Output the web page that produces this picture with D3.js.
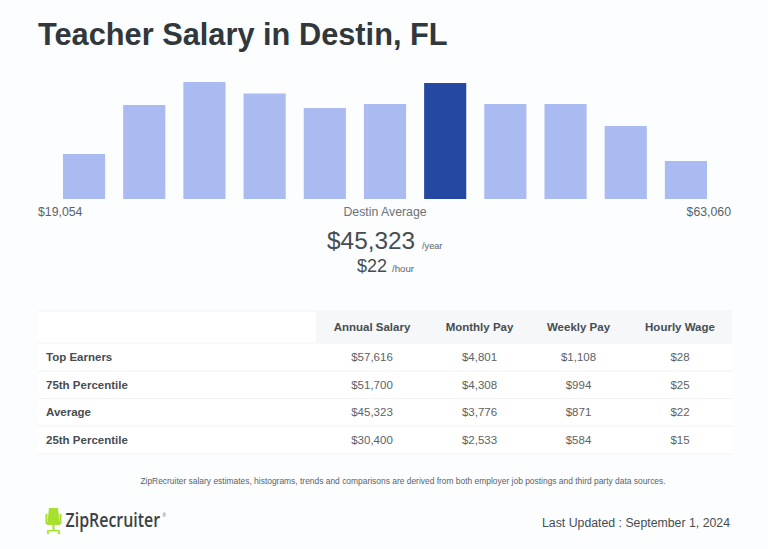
<!DOCTYPE html>
<html>
<head>
<meta charset="utf-8">
<script src="https://cdn.jsdelivr.net/npm/d3@7"></script>
<style>
  html, body { margin: 0; padding: 0; background: #fbfdff; }
  svg { display: block; font-family: "Liberation Sans", Arial, sans-serif; }
</style>
</head>
<body>
<svg width="768" height="549"></svg>
<script>
// bar heights, histogram has no y axis
const BINS = [1, 2, 3, 4, 5, 6, 7, 8, 9, 10, 11]
const BIN_VALUES = [45, 94, 117, 105.5, 91, 95, 116, 95, 95, 73, 38]
const HIGHLIGHT_BIN = 7

const TABLE_COLUMNS = ['Annual Salary', 'Monthly Pay', 'Weekly Pay', 'Hourly Wage']
const TABLE_ROWS = ['Top Earners', '75th Percentile', 'Average', '25th Percentile']
const ANNUAL = ['$57,616', '$51,700', '$45,323', '$30,400']
const MONTHLY = ['$4,801', '$4,308', '$3,776', '$2,533']
const WEEKLY = ['$1,108', '$994', '$871', '$584']
const HOURLY = ['$28', '$25', '$22', '$15']

const container = d3.select('svg')

function addText(x, y, str, size, color, anchor, weight) {
  return container.append('text')
    .attr('x', x)
    .attr('y', y)
    .attr('font-size', size)
    .attr('fill', color)
    .attr('text-anchor', anchor || 'start')
    .attr('font-weight', weight || 'normal')
    .text(str)
}

addText(38, 45, 'Teacher Salary in Destin, FL', 30.75, '#30383b', 'start', 'bold')

// histogram
const xScale = d3.scaleBand()
  .domain(BINS)
  .range([63, 707])
  .paddingInner(0.3)
  .paddingOuter(0)
const yScale = d3.scaleLinear().domain([0, 117]).range([199, 82])

container.selectAll('.bar')
  .data(BINS)
  .enter()
  .append('rect')
  .classed('bar', true)
  .attr('x', d => xScale(d))
  .attr('y', (d, i) => yScale(BIN_VALUES[i]))
  .attr('width', xScale.bandwidth())
  .attr('height', (d, i) => yScale(0) - yScale(BIN_VALUES[i]))
  .attr('fill', d => d === HIGHLIGHT_BIN ? '#2549a3' : '#a9bbf0')

addText(38, 216, '$19,054', 12.3, '#5c6266')
addText(385, 216, 'Destin Average', 12.3, '#6d7377', 'middle')
addText(731, 216, '$63,060', 12.3, '#5c6266', 'end')

addText(327, 249, '$45,323', 24.4, '#474d51')
addText(422, 249, '/year', 9.2, '#5c6266')
addText(357, 272, '$22', 18, '#474d51')
addText(392, 272, '/hour', 9.7, '#5c6266')

// salary table
const rowEdges = [311, 343, 371, 398.5, 426, 454]
const columnCenters = [372, 479.5, 578.5, 680]
const tableValues = [ANNUAL, MONTHLY, WEEKLY, HOURLY]

container.append('rect')
  .attr('x', 38).attr('y', 311).attr('width', 694).attr('height', 143)
  .attr('fill', '#ffffff')
container.append('rect')
  .attr('x', 316).attr('y', 311).attr('width', 416).attr('height', 32)
  .attr('fill', '#f5f7f9')

container.selectAll('.rowline')
  .data(rowEdges)
  .enter()
  .append('line')
  .classed('rowline', true)
  .attr('x1', 38).attr('x2', 732)
  .attr('y1', d => d).attr('y2', d => d)
  .attr('stroke', '#f1f3f5')

TABLE_COLUMNS.forEach((col, c) => {
  addText(columnCenters[c], 330.5, col, 11.5, '#474d51', 'middle', 'bold')
  TABLE_ROWS.forEach((row, r) => {
    addText(columnCenters[c], rowEdges[r + 1] + 17.5, tableValues[c][r], 11.5, '#5c6266', 'middle')
  })
})
TABLE_ROWS.forEach((row, r) => {
  addText(46, rowEdges[r + 1] + 17.5, row, 11.5, '#474d51', 'start', 'bold')
})

addText(403, 484, 'ZipRecruiter salary estimates, histograms, trends and comparisons are derived from both employer job postings and third party data sources.', 8.44, '#5c6266', 'middle')

// logo: chair + word mark
const chair = container.append('g').attr('fill', '#a8e02f')
chair.append('path').attr('d', 'M49 508 h9 l1.5 14 h-12 z')
chair.append('rect').attr('x', 45.5).attr('y', 514).attr('width', 2).attr('height', 10)
chair.append('rect').attr('x', 59.5).attr('y', 514).attr('width', 2).attr('height', 10)
chair.append('rect').attr('x', 47).attr('y', 522).attr('width', 13).attr('height', 3)
chair.append('rect').attr('x', 52.5).attr('y', 525).attr('width', 2).attr('height', 5)
chair.append('path').attr('d', 'M47 530 h13 v1.5 h-13 z')
chair.append('circle').attr('cx', 48).attr('cy', 533).attr('r', 1.2)
chair.append('circle').attr('cx', 59).attr('cy', 533).attr('r', 1.2)

// word mark is squeezed with a transform so its box stays true
addText(0, 0, 'ZipRecruiter', 19, '#3b4245', 'start', '600')
  .style('font-family', '"Open Sans", sans-serif')
  .attr('transform', 'translate(65.5,527) scale(0.84,1)')
addText(162.5, 517, '®', 4.5, '#5c6266')

addText(730, 527, 'Last Updated : September 1, 2024', 12.3, '#474d51', 'end')
</script>
</body>
</html>
